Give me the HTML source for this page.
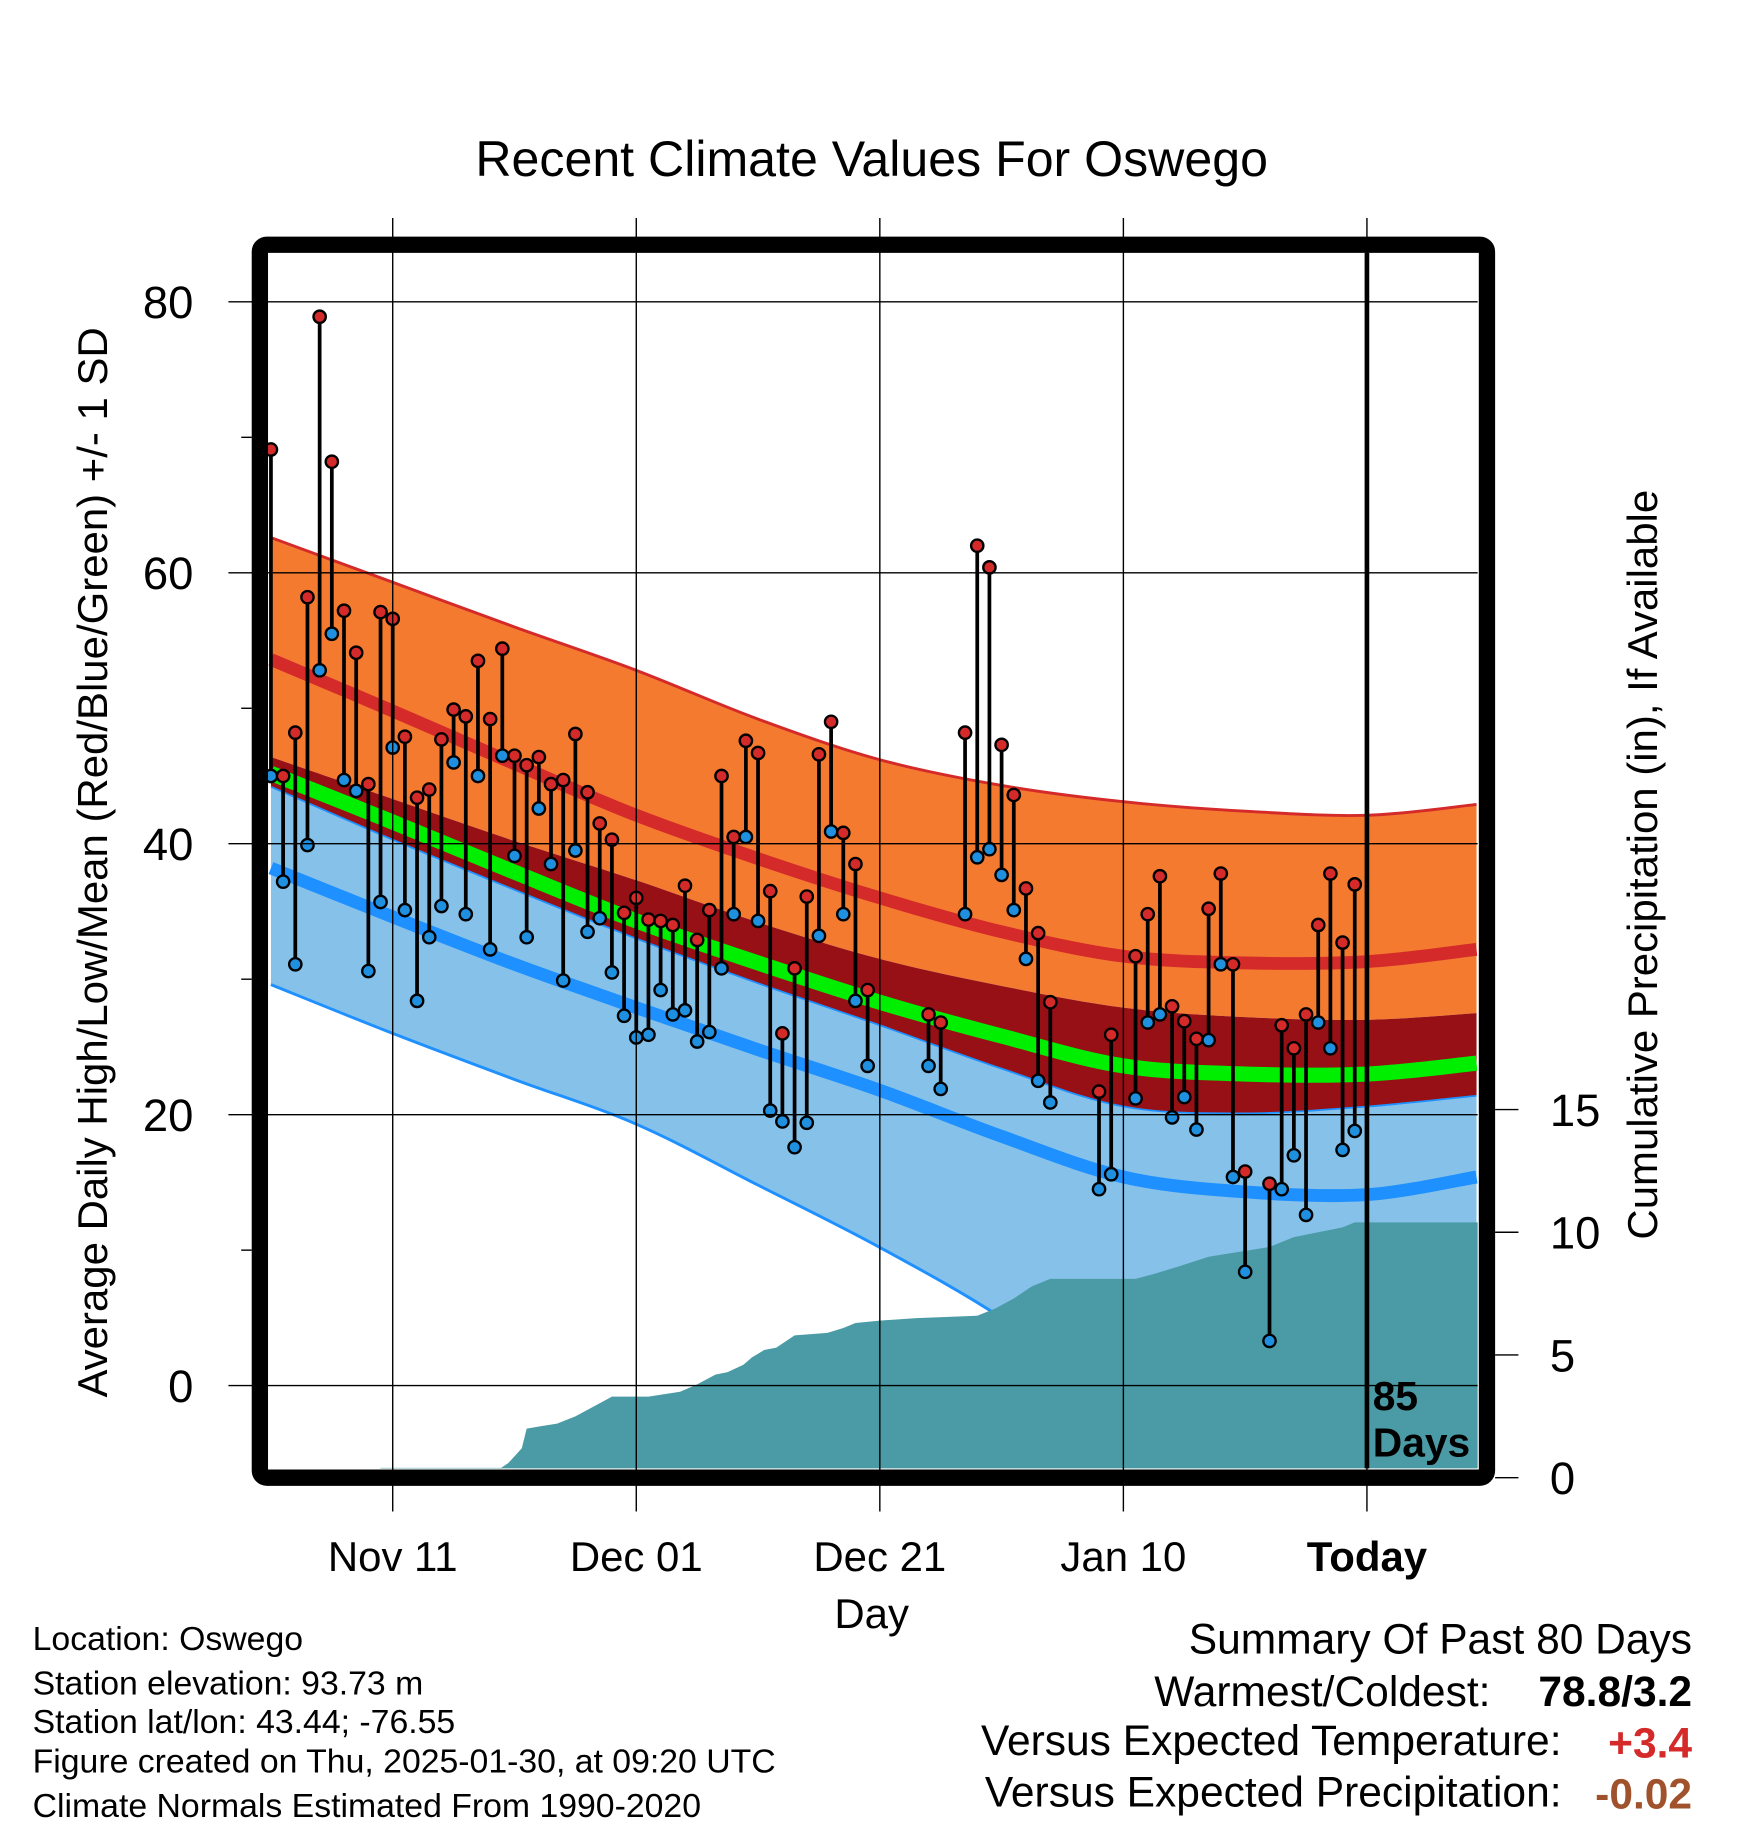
<!DOCTYPE html>
<html><head><meta charset="utf-8"><style>
html,body{margin:0;padding:0;background:#fff}
svg{display:block;font-family:"Liberation Sans",sans-serif}
</style></head><body>
<svg id="chart" width="1748" height="1828" viewBox="0 0 1500 1568.6" xmlns="http://www.w3.org/2000/svg">
<rect width="1500" height="1568.6" fill="#fff"/>
<g id="plot"></g>
<text x="748" y="151" font-size="43" text-anchor="middle">Recent Climate Values For Oswego</text>
<text transform="translate(92,740) rotate(-90)" font-size="36" text-anchor="middle">Average Daily High/Low/Mean (Red/Blue/Green) +/- 1 SD</text>
<text transform="translate(1422,742) rotate(-90)" font-size="36" text-anchor="middle">Cumulative Precipitation (in), If Available</text>
<text x="748" y="1397" font-size="36" text-anchor="middle">Day</text>
<g font-size="29">
<text x="28" y="1416">Location: Oswego</text>
<text x="28" y="1454">Station elevation: 93.73 m</text>
<text x="28" y="1487">Station lat/lon: 43.44; -76.55</text>
<text x="28" y="1521">Figure created on Thu, 2025-01-30, at 09:20 UTC</text>
<text x="28" y="1559">Climate Normals Estimated From 1990-2020</text>
</g>
<g font-size="36.5">
<text x="1452" y="1419" text-anchor="end">Summary Of Past 80 Days</text>
<text x="1279" y="1464" text-anchor="end">Warmest/Coldest:</text>
<text x="1452" y="1464" text-anchor="end" font-weight="bold">78.8/3.2</text>
<text x="1340" y="1506" text-anchor="end">Versus Expected Temperature:</text>
<text x="1452" y="1508" text-anchor="end" font-weight="bold" fill="#d42a2a">+3.4</text>
<text x="1340" y="1550" text-anchor="end">Versus Expected Precipitation:</text>
<text x="1452" y="1552" text-anchor="end" font-weight="bold" fill="#a0522d">-0.02</text>
</g>
</svg>
<script>
// ---- data ----
const normDays = [0, 10, 20, 30, 40, 50, 60, 70, 80, 90, 99];
const hiPlusSD = [62.6, 59.3, 56.0, 52.8, 49.2, 46.2, 44.3, 43.1, 42.4, 42.1, 42.9];
const normHigh = [53.6, 49.8, 45.9, 42.1, 38.9, 36.0, 33.5, 31.7, 31.2, 31.3, 32.2];
const hiMinusSD = [46.4, 43.3, 40.2, 37.3, 34.2, 31.5, 29.5, 27.9, 27.2, 27.0, 27.5];
const normMean = [45.2, 41.6, 37.9, 34.3, 31.2, 28.3, 25.8, 23.6, 23.0, 23.0, 23.8];
const loPlusSD = [44.2, 40.3, 36.6, 33.0, 29.7, 26.6, 23.4, 20.6, 20.1, 20.6, 21.4];
const normLow = [38.2, 34.6, 31.1, 27.9, 24.8, 21.8, 18.4, 15.4, 14.3, 14.1, 15.4];
const loMinusSD = [29.6, 26.0, 22.6, 19.3, 14.8, 10.2, 5.0, -1.5, -4.0, -5.0, -4.5];

const obsDays = [0,1,2,3,4,5,6,7,8,9,10,11,12,13,14,15,16,17,18,19,20,21,22,23,24,25,26,27,28,29,30,31,32,33,34,35,36,37,38,39,40,41,42,43,44,45,46,47,48,49,54,55,57,58,59,60,61,62,63,64,68,69,71,72,73,74,75,76,77,78,79,80,82,83,84,85,86,87,88,89];
const obsHigh = [69.1,45.0,48.2,58.2,78.9,68.2,57.2,54.1,44.4,57.1,56.6,47.9,43.4,44.0,47.7,49.9,49.4,53.5,49.2,54.4,46.5,45.8,46.4,44.4,44.7,48.1,43.8,41.5,40.3,34.9,36.0,34.4,34.3,34.0,36.9,32.9,35.1,45.0,40.5,47.6,46.7,36.5,26.0,30.8,36.1,46.6,49.0,40.8,38.5,29.2,27.4,26.8,48.2,62.0,60.4,47.3,43.6,36.7,33.4,28.3,21.7,25.9,31.7,34.8,37.6,28.0,26.9,25.6,35.2,37.8,31.1,15.8,14.9,26.6,24.9,27.4,34.0,37.8,32.7,37.0];
const obsLow = [45.0,37.2,31.1,39.9,52.8,55.5,44.7,43.9,30.6,35.7,47.1,35.1,28.4,33.1,35.4,46.0,34.8,45.0,32.2,46.5,39.1,33.1,42.6,38.5,29.9,39.5,33.5,34.5,30.5,27.3,25.7,25.9,29.2,27.4,27.7,25.4,26.1,30.8,34.8,40.5,34.3,20.3,19.5,17.6,19.4,33.2,40.9,34.8,28.4,23.6,23.6,21.9,34.8,39.0,39.6,37.7,35.1,31.5,22.5,20.9,14.5,15.6,21.2,26.8,27.4,19.8,21.3,18.9,25.5,31.1,15.4,8.4,3.3,14.5,17.0,12.6,26.8,24.9,17.4,18.8];

const precipDays = [0,8.7,9,18.9,19.5,20.6,21,22.2,23.5,25,26.5,28,31,33.6,35,36.5,37.5,38.8,39.5,40.5,41.5,43,45.7,47,48,50,53,58,59.5,61,62.5,64,71,72.5,74.5,77,79.5,82,84,86,88,89,99.2];
const precipVals = [0,0,0.4,0.4,0.6,1.2,2.0,2.1,2.2,2.5,2.9,3.3,3.3,3.5,3.8,4.2,4.3,4.6,4.9,5.2,5.3,5.8,5.9,6.1,6.3,6.4,6.5,6.6,6.9,7.3,7.8,8.1,8.1,8.3,8.6,9.0,9.2,9.4,9.8,10.0,10.2,10.4,10.4];

const xTickDays = [10, 30, 50, 70, 90];
const xTickLabels = ["Nov 11", "Dec 01", "Dec 21", "Jan 10", "Today"];
const yTicks = [0, 20, 40, 60, 80];
const yMinor = [10, 30, 50, 70];
const pTicks = [0, 5, 10, 15];

// ---- axes ----
const X0 = 230, X1 = 1268, Y0 = 217, Y1 = 1260;
const xs = d => 232.5 + d * 10.45;
const ys = v => 1189 - v * 11.625;
const yp = p => 1268 - p * 21.06;
const NS = "http://www.w3.org/2000/svg";
const plot = document.getElementById("plot");
function mk(tag, attrs, parent) {
  const el = document.createElementNS(NS, tag);
  for (const k in attrs) el.setAttribute(k, attrs[k]);
  (parent || plot).appendChild(el);
  return el;
}
function smooth(pts) {
  let d = "";
  for (let i = 0; i < pts.length - 1; i++) {
    const p0 = pts[Math.max(0, i - 1)], p1 = pts[i], p2 = pts[i + 1], p3 = pts[Math.min(pts.length - 1, i + 2)];
    const c1x = p1[0] + (p2[0] - p0[0]) / 6, c1y = p1[1] + (p2[1] - p0[1]) / 6;
    const c2x = p2[0] - (p3[0] - p1[0]) / 6, c2y = p2[1] - (p3[1] - p1[1]) / 6;
    d += "C" + c1x + "," + c1y + " " + c2x + "," + c2y + " " + p2[0] + "," + p2[1];
  }
  return d;
}
function pts(arr) { return normDays.map((dd, i) => [xs(dd), ys(arr[i])]); }
const defs = mk("defs", {});
const cp = mk("clipPath", { id: "clip" }, defs);
mk("rect", { x: X0, y: Y0, width: X1 - X0, height: Y1 - Y0 }, cp);
const g = mk("g", { "clip-path": "url(#clip)" });

function bandG(top, bot, fill, name) {
  const a = pts(top), b = pts(bot).reverse();
  const d = "M" + a[0].join(",") + smooth(a) + "L" + b[0].join(",") + smooth(b) + "Z";
  const p = mk("path", { d: d, fill: fill }, g);
  
  
}
function lineG(arr, color, w, name) {
  const a = pts(arr);
  const p = mk("path", { d: "M" + a[0].join(",") + smooth(a), fill: "none", stroke: color, "stroke-width": w }, g);
  
  
}
bandG(hiPlusSD, hiMinusSD, "#f47a30", "high-sd-band");
bandG(hiMinusSD, loPlusSD, "#961016", "overlap-band");
bandG(loPlusSD, loMinusSD, "#85c1e8", "low-sd-band");
lineG(hiPlusSD, "#d42a2a", 2.5, "high-plus-sd-line");
lineG(loPlusSD, "#1e90ff", 1.5, "low-plus-sd-line");
lineG(loMinusSD, "#1e90ff", 2.5, "low-minus-sd-line");
lineG(normHigh, "#d42a2a", 11, "normal-high-line");
lineG(normMean, "#00ee00", 13, "normal-mean-line");
lineG(normLow, "#1e90ff", 11, "normal-low-line");

// precip
let pd = "M" + xs(precipDays[0]) + "," + (Y1 + 5);
precipDays.forEach((d, i) => { pd += "L" + xs(d) + "," + yp(precipVals[i]); });
pd += "L" + xs(precipDays[precipDays.length - 1]) + "," + (Y1 + 5) + "Z";
const pa = mk("path", { d: pd, fill: "#4a9ba5" }, g);



// grid
xTickDays.forEach(d => { mk("line", { x1: xs(d), x2: xs(d), y1: 187, y2: 1297, stroke: "#000", "stroke-width": 1.2 }); });
yTicks.forEach(v => { mk("line", { x1: 196, x2: X1, y1: ys(v), y2: ys(v), stroke: "#000", "stroke-width": 1.2 }); });
yMinor.forEach(v => { mk("line", { x1: 207, x2: 216, y1: ys(v), y2: ys(v), stroke: "#000", "stroke-width": 1.2 }); });
pTicks.forEach(p => { mk("line", { x1: 1283, x2: 1303, y1: yp(p), y2: yp(p), stroke: "#000", "stroke-width": 1.2 }); });

// observations
obsDays.forEach((d, i) => {
  const x = xs(d);
  const l = mk("line", { x1: x, x2: x, y1: ys(obsHigh[i]), y2: ys(obsLow[i]), stroke: "#000", "stroke-width": 3.2 }, g);
  
  
});
obsDays.forEach((d, i) => {
  const x = xs(d);
  const hi = mk("circle", { cx: x, cy: ys(obsHigh[i]), r: 5.3, fill: "#d42a2a", stroke: "#000", "stroke-width": 2 }, g);
  
  
  const lo = mk("circle", { cx: x, cy: ys(obsLow[i]), r: 5.3, fill: "#1f8fe0", stroke: "#000", "stroke-width": 2 }, g);
  
  
});

// today line
const tl = mk("line", { x1: xs(90), x2: xs(90), y1: Y0, y2: Y1, stroke: "#000", "stroke-width": 4 });


const t1 = mk("text", { x: 1178, y: 1210, "font-size": 35, "font-weight": "bold" });
t1.textContent = "85";


const t2 = mk("text", { x: 1178, y: 1250, "font-size": 35, "font-weight": "bold" });
t2.textContent = "Days";



// frame
const fr = mk("rect", { x: 223, y: 210, width: 1053, height: 1058, rx: 6, fill: "none", stroke: "#000", "stroke-width": 14 });



// tick labels
yTicks.forEach(v => {
  const t = mk("text", { x: 166, y: ys(v) + 14, "font-size": 39, "text-anchor": "end" });
  t.textContent = v;
  
  
});
pTicks.forEach(p => {
  const t = mk("text", { x: 1330, y: yp(p) + 14, "font-size": 39 });
  t.textContent = p;
  
  
});
xTickDays.forEach((d, i) => {
  const t = mk("text", { x: xs(d), y: 1348, "font-size": 36, "text-anchor": "middle" });
  if (i === xTickDays.length - 1) t.setAttribute("font-weight", "bold");
  t.textContent = xTickLabels[i];
  
  
});
</script>
</body></html>
